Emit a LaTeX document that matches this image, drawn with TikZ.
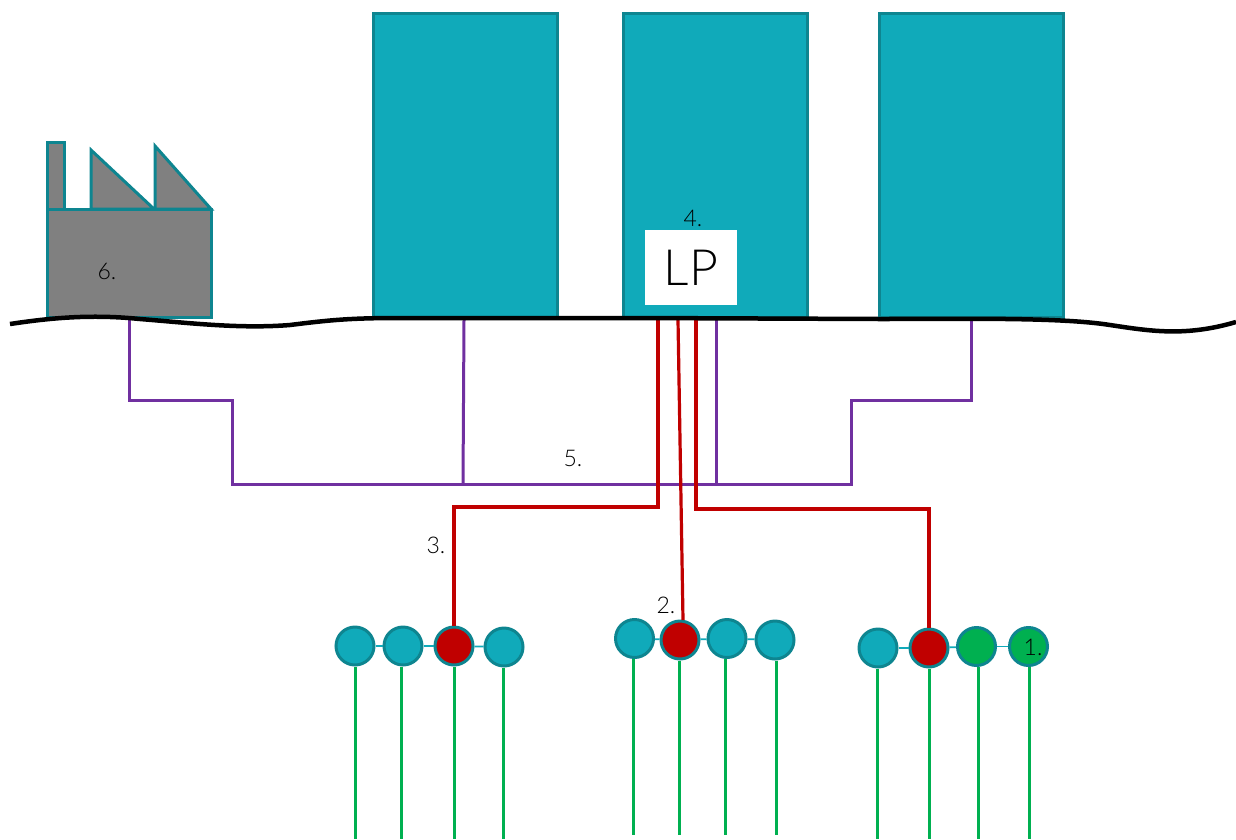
\documentclass[tikz,border=0pt]{standalone}
\usepackage{fontspec}
\setmainfont{Lato Light}
\definecolor{teal1}{HTML}{10AABA}
\definecolor{teal2}{HTML}{0E8590}
\definecolor{red1}{HTML}{C00000}
\definecolor{green1}{HTML}{00B050}
\definecolor{purple1}{HTML}{7030A0}
\definecolor{gray1}{HTML}{808080}
\tikzset{
  x=1pt,y=-1pt,
  building/.style={draw=teal2,fill=teal1,line width=3pt,rectangle,minimum width=184pt,minimum height=304pt,inner sep=0pt},
  factorypart/.style={draw=teal2,fill=gray1,line width=3pt,line join=miter},
  hub/.style={circle,draw=teal2,line width=3pt,minimum size=38pt,inner sep=0pt,fill=teal1},
  hubred/.style={hub,fill=red1},
  hubgreen/.style={hub,fill=green1},
  link/.style={draw=teal1,line width=1.8pt},
  drop/.style={draw=green1,line width=3pt},
  feed/.style={draw=red1,line width=3.2pt},
  trunk/.style={draw=purple1,line width=3pt},
  ground/.style={draw=black,line width=4.5pt},
  lbl/.style={font=\fontsize{23}{23}\selectfont,text=black,inner sep=0pt},
}
\begin{document}
\begin{tikzpicture}
\useasboundingbox (0,0) rectangle (1236,839);
% buildings
\node[building] (b1) at (465,165.5) {};
\node[building] (b2) at (715.5,165.5) {};
\node[building] (b3) at (971.5,165.5) {};
\node[fill=white,minimum width=92pt,minimum height=75pt,inner sep=0pt] (lp) at (691,267.5) {\fontsize{50}{50}\selectfont LP};
% factory
\draw[factorypart] (47,209) -- (47,142) -- (64,142) -- (64,209) -- cycle;
\draw[factorypart] (91,209) -- (91,150) -- (154,209) -- cycle;
\draw[factorypart] (155,209) -- (155,146) -- (211,209) -- cycle;
\node[factorypart,draw,rectangle,minimum width=164pt,minimum height=108pt,inner sep=0pt] (factory) at (129,263) {};
% junction coordinates
\coordinate (gf) at (129,320);
\coordinate (g1) at (464,320);
\coordinate (g3) at (971,320);
\coordinate (glp) at (716,320);
\coordinate (ga) at (658,320);
\coordinate (gb) at (678,320);
\coordinate (gc) at (696,320);
\coordinate (tl) at (232,484);
\coordinate (tm) at (463,484);
\coordinate (tn) at (716,484);
\coordinate (tr) at (851,484);
% purple
\draw[trunk] (gf) -- (129,400) -- (232,400) -- (tl) -- (tr) -- (851,400) -- (971,400) -- (g3);
\draw[trunk] (g1) -- (tm);
\draw[trunk] (glp) -- (tn);
% hubs
\node[hub] (a1) at (355,646) {};
\node[hub] (a2) at (403,646) {};
\node[hubred] (a3) at (454,646) {};
\node[hub] (a4) at (504,647) {};
\node[hub] (c1) at (634.5,638.5) {};
\node[hubred] (c2) at (680,640) {};
\node[hub] (c3) at (727,638.5) {};
\node[hub] (c4) at (775,640) {};
\node[hub] (d1) at (878,648) {};
\node[hubred] (d2) at (929,648) {};
\node[hubgreen] (d3) at (976.5,646.5) {};
\node[hubgreen] (d4) at (1028.5,646.5) {};
% links
\draw[link] (a1) -- (a2);
\draw[link] (a2) -- (a3);
\draw[link] (a3) -- (a4);
\draw[link] (c1) -- (c2);
\draw[link] (c2) -- (c3);
\draw[link] (c3) -- (c4);
\draw[link] (d1) -- (d2);
\draw[link] (d2) -- (d3);
\draw[link] (d3) -- (d4);
% red feeds
\draw[feed] (ga) -- (658,507) -- (454,507) -- (a3.north);
\draw[feed] (gb) -- (683,620);
\draw[feed] (gc) -- (696,509) -- (929,509) -- (d2.north);
% green drops
\foreach \n/\x/\y in {a1/355/839,a2/401.5/839,a3/454/839,a4/503/839,c1/633/835,c2/679.5/835,c3/725.5/835,c4/776/835,d1/877/839,d2/929/839,d3/978/839,d4/1029/839}{
  \coordinate (e\n) at (\x,\y);
  \draw[drop] (\x,0 |- \n.south) -- (e\n);
}
% ground
\draw[ground] (10,324) .. controls (50,318) and (90,314) .. (140,319)
  .. controls (190,323) and (240,329) .. (290,325)
  .. controls (330,320) and (350,318) .. (400,318)
  -- (640,318) -- (880,319)
  .. controls (960,319) and (1060,317) .. (1110,325)
  .. controls (1150,331) and (1185,337) .. (1236,322);
% labels
\node[lbl] (n1) at (1033,647) {1.};
\node[lbl] (n2) at (666,605) {2.};
\node[lbl] (n3) at (436,545) {3.};
\node[lbl] (n4) at (693,218) {4.};
\node[lbl] (n5) at (573,458) {5.};
\node[lbl] (n6) at (107,271) {6.};
\end{tikzpicture}
\end{document}
